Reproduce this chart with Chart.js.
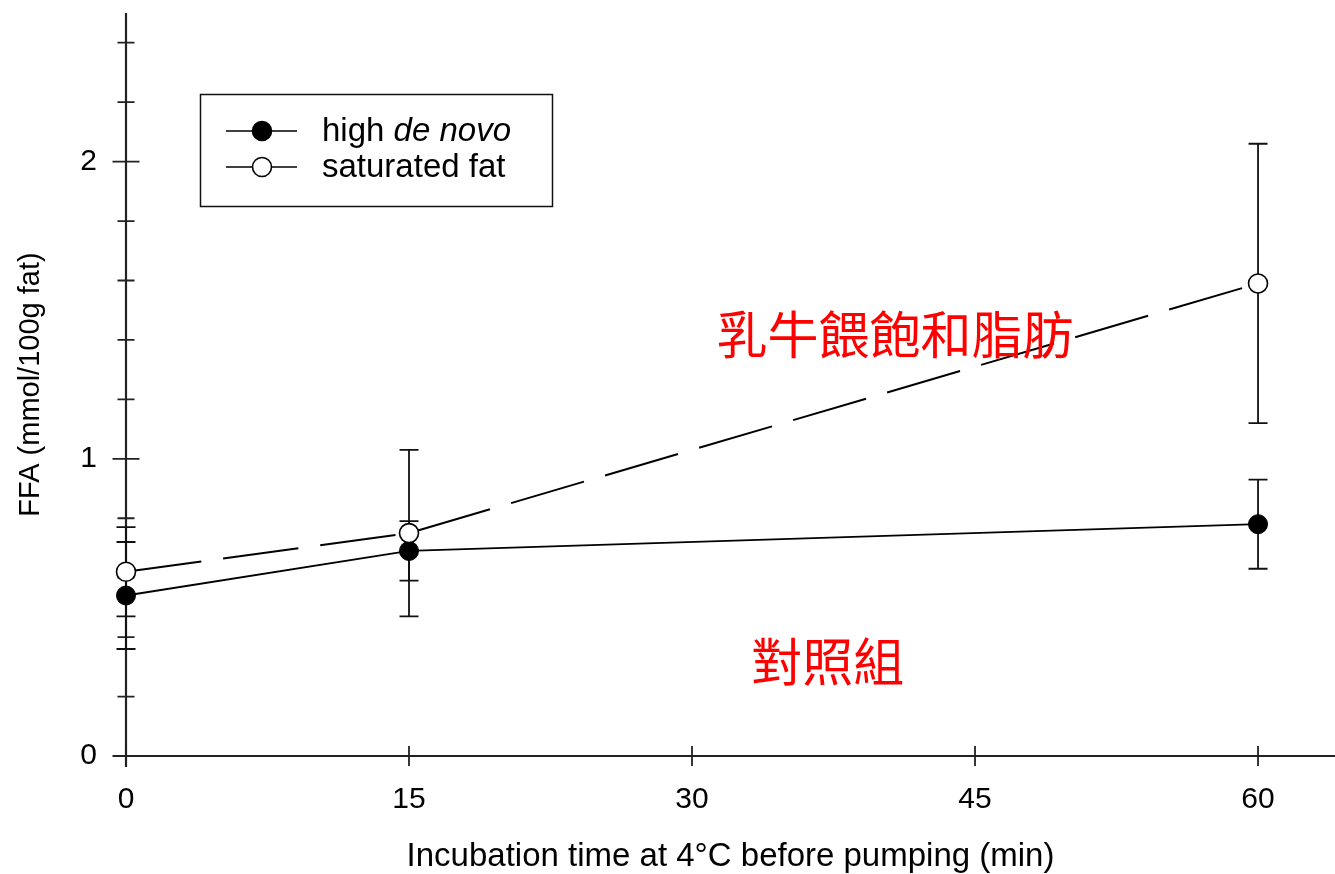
<!DOCTYPE html>
<html>
<head>
<meta charset="utf-8">
<script src="https://cdn.jsdelivr.net/npm/chart.js@4.4.0/dist/chart.umd.min.js"></script>
<style>
  html, body { margin: 0; padding: 0; background: #ffffff; overflow: hidden; }
  #wrap { width: 1335px; height: 874px; position: relative; }
</style>
</head>
<body>
<div id="wrap"><canvas id="c"></canvas></div>
<script>
// ---- data ----
const times = [0, 15, 60];
const highDeNovo = [0.54, 0.69, 0.78];
const highDeNovoErr = [0.18, 0.10, 0.15];
const saturatedFat = [0.62, 0.75, 1.59];
const saturatedFatErr = [0.15, 0.28, 0.47];
const seriesLabels = ['high de novo', 'saturated fat'];
const xTickValues = [0, 15, 30, 45, 60];
const yTickValues = [0, 1, 2];
const yMinorTickValues = [0.2, 0.4, 0.6, 0.8, 1.2, 1.4, 1.6, 1.8, 2.2, 2.4];
const xTitle = 'Incubation time at 4°C before pumping (min)';
const yTitle = 'FFA (mmol/100g fat)';
const annotationTexts = ['乳牛餵飽和脂肪', '對照組'];

// ---- layout / style (not data) ----
const annotationPositions = [{x: 40.76, y: 1.417}, {x: 37.2, y: 0.316}];
const FONT = "'Liberation Sans', Arial, sans-serif";

const toPoints = (ys) => times.map((t, i) => ({x: t, y: ys[i]}));

const errorBarPlugin = {
  id: 'errorBars',
  beforeDatasetsDraw(chart) {
    const {ctx, scales: {x, y}} = chart;
    ctx.save();
    ctx.strokeStyle = '#111';
    ctx.lineWidth = 1.8;
    chart.data.datasets.forEach(ds => {
      ds.data.forEach((p, i) => {
        const e = ds.errors[i];
        const px = x.getPixelForValue(p.x);
        const top = y.getPixelForValue(p.y + e);
        const bot = y.getPixelForValue(p.y - e);
        ctx.beginPath();
        ctx.moveTo(px, top); ctx.lineTo(px, bot);
        ctx.moveTo(px - 9.5, top); ctx.lineTo(px + 9.5, top);
        ctx.moveTo(px - 9.5, bot); ctx.lineTo(px + 9.5, bot);
        ctx.stroke();
      });
    });
    ctx.restore();
  }
};

const axesPlugin = {
  id: 'crossAxes',
  beforeDatasetsDraw(chart) {
    const {ctx, scales: {x, y}} = chart;
    const x0 = x.getPixelForValue(0);
    const y0 = y.getPixelForValue(0);
    ctx.save();
    ctx.strokeStyle = '#222';
    ctx.lineWidth = 2.2;
    ctx.beginPath();
    ctx.moveTo(x0, y.getPixelForValue(y.max)); ctx.lineTo(x0, y0 + 11);
    ctx.moveTo(x0, y0); ctx.lineTo(x.getPixelForValue(x.max), y0);
    ctx.stroke();
    ctx.lineWidth = 1.8;
    ctx.beginPath();
    yTickValues.forEach(v => { const p = y.getPixelForValue(v); ctx.moveTo(x0 - 13.5, p); ctx.lineTo(x0 + 13.5, p); });
    yMinorTickValues.forEach(v => { const p = y.getPixelForValue(v); ctx.moveTo(x0 - 8.5, p); ctx.lineTo(x0 + 8.5, p); });
    xTickValues.forEach(v => { const p = x.getPixelForValue(v); ctx.moveTo(p, y0 - 10); ctx.lineTo(p, y0 + 10); });
    ctx.stroke();
    ctx.restore();
  }
};

const legendPlugin = {
  id: 'boxLegend',
  afterDraw(chart) {
    const {ctx} = chart;
    ctx.save();
    ctx.strokeStyle = '#111';
    ctx.lineWidth = 1.5;
    ctx.strokeRect(200.5, 94.5, 352, 112);
    chart.data.datasets.forEach((ds, i) => {
      const cy = 131 + 36 * i;
      ctx.strokeStyle = '#000';
      ctx.lineWidth = 1.6;
      ctx.setLineDash([]);
      ctx.beginPath(); ctx.moveTo(226, cy); ctx.lineTo(297, cy); ctx.stroke();
      ctx.beginPath(); ctx.arc(262, cy, 9.5, 0, Math.PI * 2);
      ctx.fillStyle = ds.pointBackgroundColor; ctx.fill(); ctx.stroke();
      ctx.fillStyle = '#000';
      ctx.textBaseline = 'middle';
      ctx.textAlign = 'left';
      const label = ds.label;
      const italicPart = 'de novo';
      let tx = 322;
      const idx = label.indexOf(italicPart);
      const parts = idx >= 0
        ? [[label.slice(0, idx), false], [italicPart, true], [label.slice(idx + italicPart.length), false]]
        : [[label, false]];
      parts.forEach(([t, it]) => {
        if (!t) return;
        ctx.font = (it ? 'italic ' : '') + '33px ' + FONT;
        ctx.fillText(t, tx, cy + 1);
        tx += ctx.measureText(t).width;
      });
    });
    ctx.restore();
  }
};

const annotationPlugin = {
  id: 'notes',
  afterDraw(chart) {
    const {ctx, scales: {x, y}} = chart;
    ctx.save();
    ctx.fillStyle = '#ff0000';
    ctx.font = "51px 'Noto Sans CJK TC', sans-serif";
    ctx.textAlign = 'center';
    ctx.textBaseline = 'middle';
    annotationTexts.forEach((t, i) => {
      const pos = annotationPositions[i];
      ctx.fillText(t, x.getPixelForValue(pos.x), y.getPixelForValue(pos.y));
    });
    ctx.restore();
  }
};

const zeroPad = s => { s.paddingTop = 0; s.paddingBottom = 0; s.paddingLeft = 0; s.paddingRight = 0; };

new Chart(document.getElementById('c'), {
  type: 'scatter',
  data: {
    datasets: [
      {
        label: seriesLabels[0],
        data: toPoints(highDeNovo),
        errors: highDeNovoErr,
        showLine: true,
        clip: false,
        borderColor: '#000',
        borderWidth: 1.8,
        pointRadius: 9.5,
        pointHoverRadius: 9.5,
        pointBackgroundColor: '#000',
        pointBorderColor: '#000',
        pointBorderWidth: 1,
        order: 2
      },
      {
        label: seriesLabels[1],
        data: toPoints(saturatedFat),
        errors: saturatedFatErr,
        showLine: true,
        clip: false,
        borderColor: '#000',
        borderWidth: 2,
        borderDash: [76, 22],
        pointRadius: 9.5,
        pointHoverRadius: 9.5,
        pointBackgroundColor: '#fff',
        pointBorderColor: '#000',
        pointBorderWidth: 1.6,
        order: 1
      }
    ]
  },
  options: {
    responsive: true,
    maintainAspectRatio: false,
    animation: false,
    layout: {autoPadding: false, padding: {top: 13, right: 0, left: 0, bottom: 0}},
    plugins: {legend: {display: false}, tooltip: {enabled: false}},
    scales: {
      x: {
        type: 'linear', min: 0, max: 64.08,
        grid: {display: false, drawTicks: false},
        border: {display: false},
        afterBuildTicks: s => { s.ticks = xTickValues.map(v => ({value: v})); },
        afterFit: s => { s.height = 118; zeroPad(s); },
        ticks: {padding: 29, color: '#000', maxRotation: 0, autoSkip: false,
                font: {family: FONT, size: 30, lineHeight: 1}},
        title: {display: true, text: xTitle, color: '#000',
                font: {family: FONT, size: 33, lineHeight: 1}, padding: {top: 0, bottom: 1}}
      },
      y: {
        type: 'linear', min: 0, max: 2.5,
        grid: {display: false, drawTicks: false},
        border: {display: false},
        afterBuildTicks: s => { s.ticks = yTickValues.map(v => ({value: v})); },
        afterFit: s => { s.width = 126; zeroPad(s); },
        ticks: {padding: 29, color: '#000',
                font: {family: FONT, size: 30, lineHeight: 1}},
        title: {display: true, text: yTitle, color: '#000',
                font: {family: FONT, size: 29, lineHeight: 1}, padding: {top: 16, bottom: 0}}
      }
    }
  },
  plugins: [axesPlugin, errorBarPlugin, legendPlugin, annotationPlugin]
});
</script>
</body>
</html>
